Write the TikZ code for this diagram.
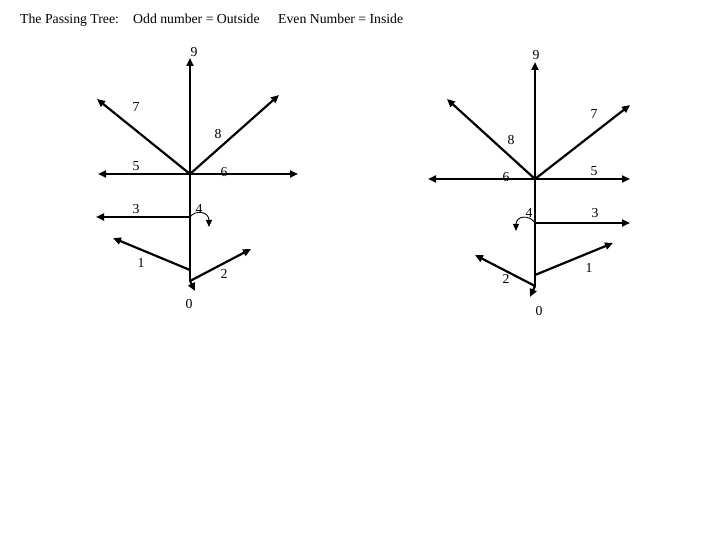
\documentclass[tikz,border=0pt]{standalone}
\usepackage{fontspec}
\setmainfont{Liberation Serif}
\usetikzlibrary{arrows.meta}
\tikzset{
    branch/.style={line width=2.2bp,-{Triangle[length=8bp,width=7bp]}},
    curl/.style={line width=0.9bp,-{Triangle[length=7bp,width=6bp]}},
    lbl/.style={inner sep=0pt,font=\fontsize{13.8}{15}\selectfont},
}
\begin{document}
\begin{tikzpicture}[x=1bp,y=-1bp]
    \useasboundingbox (0,0) rectangle (720,540);

    % heading
    \node[lbl,anchor=base west] (title) at (20,24) {The Passing Tree:};
    \node[lbl,anchor=base west] (odd) at (133,24) {Odd number = Outside};
    \node[lbl,anchor=base west] (even) at (278,24) {Even Number = Inside};

    % left tree
    \coordinate (L-top) at (190,58);
    \coordinate (L-c) at (190,174);
    \coordinate (L-ul) at (97,99);
    \coordinate (L-ur) at (279,95);
    \coordinate (L-l) at (98,174);
    \coordinate (L-r) at (298,174);
    \coordinate (L-b3) at (190,217);
    \coordinate (L-3) at (96,217);
    \coordinate (L-4) at (209,227);
    \coordinate (L-b1) at (190,270);
    \coordinate (L-1) at (113,238);
    \coordinate (L-b2) at (190,281);
    \coordinate (L-2) at (251,249);
    \coordinate (L-0) at (195,291);

    \draw[branch] (L-b2) -- (L-top);
    \draw[branch] (L-c) -- (L-ul);
    \draw[branch] (L-c) -- (L-ur);
    \draw[branch] (L-c) -- (L-l);
    \draw[branch] (L-c) -- (L-r);
    \draw[branch] (L-b3) -- (L-3);
    \draw[branch] (L-b1) -- (L-1);
    \draw[branch] (L-b2) -- (L-2);
    \draw[branch] (L-b2) -- (L-0);
    \draw[curl] (L-b3) .. controls (196,209) and (209,212) .. (L-4);

    \node[lbl] (L-n9) at (194,52) {9};
    \node[lbl] (L-n7) at (136,107) {7};
    \node[lbl] (L-n8) at (218,134) {8};
    \node[lbl] (L-n5) at (136,166) {5};
    \node[lbl] (L-n6) at (224,172) {6};
    \node[lbl] (L-n3) at (136,209) {3};
    \node[lbl] (L-n4) at (199,209) {4};
    \node[lbl] (L-n1) at (141,263) {1};
    \node[lbl] (L-n2) at (224,274) {2};
    \node[lbl] (L-n0) at (189,304) {0};

    % right tree
    \coordinate (R-top) at (535,62);
    \coordinate (R-c) at (535,179);
    \coordinate (R-ul) at (447,99);
    \coordinate (R-ur) at (630,105);
    \coordinate (R-l) at (428,179);
    \coordinate (R-r) at (630,179);
    \coordinate (R-b3) at (535,223);
    \coordinate (R-3) at (630,223);
    \coordinate (R-4) at (516,231);
    \coordinate (R-b1) at (535,275);
    \coordinate (R-1) at (613,243);
    \coordinate (R-b2) at (535,286);
    \coordinate (R-2) at (475,255);
    \coordinate (R-0) at (530,297);

    \draw[branch] (R-b2) -- (R-top);
    \draw[branch] (R-c) -- (R-ul);
    \draw[branch] (R-c) -- (R-ur);
    \draw[branch] (R-c) -- (R-l);
    \draw[branch] (R-c) -- (R-r);
    \draw[branch] (R-b3) -- (R-3);
    \draw[branch] (R-b1) -- (R-1);
    \draw[branch] (R-b2) -- (R-2);
    \draw[branch] (R-b2) -- (R-0);
    \draw[curl] (R-b3) .. controls (529,214) and (516,216) .. (R-4);

    \node[lbl] (R-n9) at (536,55) {9};
    \node[lbl] (R-n7) at (594,114) {7};
    \node[lbl] (R-n8) at (511,140) {8};
    \node[lbl] (R-n6) at (506,177) {6};
    \node[lbl] (R-n5) at (594,171) {5};
    \node[lbl] (R-n4) at (529,213) {4};
    \node[lbl] (R-n3) at (595,213) {3};
    \node[lbl] (R-n1) at (589,268) {1};
    \node[lbl] (R-n2) at (506,279) {2};
    \node[lbl] (R-n0) at (539,311) {0};
\end{tikzpicture}
\end{document}
